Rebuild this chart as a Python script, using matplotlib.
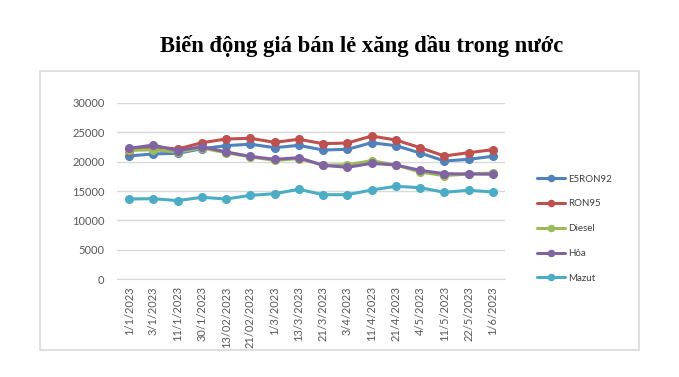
import matplotlib
matplotlib.use('Agg')
import matplotlib.pyplot as plt
from matplotlib.patches import Rectangle

# ngay dieu chinh gia va gia ban le (dong/lit)
dates = ['1/1/2023', '3/1/2023', '11/1/2023', '30/1/2023', '13/02/2023', '21/02/2023',
         '1/3/2023', '13/3/2023', '21/3/2023', '3/4/2023', '11/4/2023', '21/4/2023',
         '4/5/2023', '11/5/2023', '22/5/2023', '1/6/2023']
e5ron92 = [20950, 21300, 21400, 22180, 22700, 22950, 22360, 22760, 21960, 22080,
           23200, 22700, 21460, 20100, 20380, 20900]
ron95 = [21850, 22500, 22130, 23200, 23830, 23950, 23270, 23780, 23040, 23150,
         24340, 23660, 22360, 20950, 21510, 22020]
diesel = [21900, 22000, 21600, 22300, 21500, 20800, 20200, 20500, 19400, 19450,
          20150, 19410, 18230, 17600, 17900, 18060]
hoa = [22250, 22800, 21850, 22530, 21630, 20880, 20380, 20660, 19360, 19020,
       19700, 19410, 18510, 17940, 17890, 17840]
mazut = [13640, 13700, 13360, 13930, 13640, 14260, 14540, 15290, 14370, 14370,
         15170, 15800, 15560, 14780, 15120, 14830]

series = [('E5RON92', e5ron92, '#4F81BD'),
          ('RON95', ron95, '#C0504D'),
          ('Diesel', diesel, '#9BBB59'),
          ('Hỏa', hoa, '#8064A2'),
          ('Mazut', mazut, '#4BACC6')]

W, H = 679, 377
fig = plt.figure(figsize=(W / 100, H / 100), dpi=100)
plt.rcParams['font.family'] = ['Lato', 'DejaVu Sans']

# khung bieu do
fig.patches.append(Rectangle((40 / W, 1 - 350 / H), 599 / W, 279 / H,
                             transform=fig.transFigure, fill=False,
                             edgecolor='#D9D9D9', linewidth=1.2))

fig.text(362 / W, 1 - 46 / H, 'Biến động giá bán lẻ xăng dầu trong nước',
         ha='center', va='center', fontsize=16.3, fontweight='bold',
         family=['Liberation Serif', 'DejaVu Serif'], color='black')

ax = fig.add_axes([117 / W, 1 - 279.3 / H, 388 / W, 176.6 / H])
x = range(len(dates))
handles = []
for name, vals, col in series:
    h, = ax.plot(x, vals, color=col, linewidth=2.2, marker='o', markersize=5.5,
                 label=name, solid_capstyle='round')
    handles.append(h)

ax.set_xlim(-0.5, len(dates) - 0.5)
ax.set_ylim(0, 30000)
ax.set_yticks(range(0, 30001, 5000))
ax.set_xticks(list(x))
ax.set_xticklabels(dates, rotation=90)
ax.grid(axis='y', color='#D9D9D9', linewidth=1)
ax.set_axisbelow(True)
for s in ['top', 'right', 'left']:
    ax.spines[s].set_visible(False)
ax.spines['bottom'].set_color('#D9D9D9')
ax.tick_params(axis='both', length=0, labelsize=8, colors='#595959')
ax.tick_params(axis='y', pad=9)
ax.tick_params(axis='x', pad=5)

leg = fig.legend(handles=handles, loc='center left',
                 bbox_to_anchor=(537 / W, 1 - 228.7 / H), bbox_transform=fig.transFigure,
                 frameon=False, fontsize=7, labelspacing=1.62, handlelength=2.9,
                 handletextpad=0.3, borderpad=0, borderaxespad=0, markerscale=0.8)
for t in leg.get_texts():
    t.set_color('#404040')

fig.savefig('out.png', dpi=100)
